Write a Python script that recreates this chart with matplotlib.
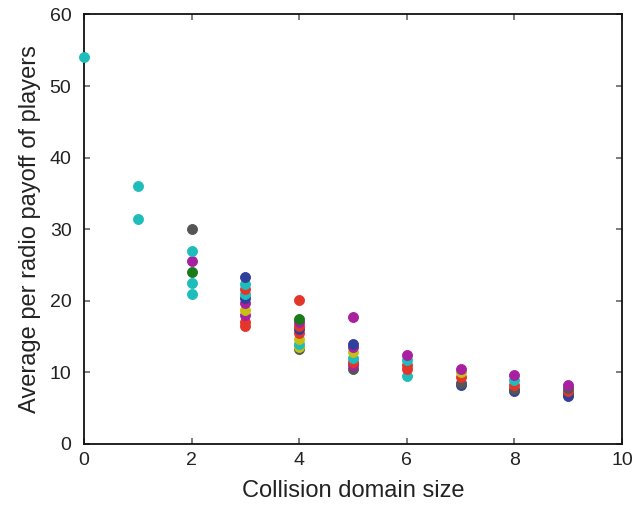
import matplotlib
matplotlib.use("Agg")
import matplotlib.pyplot as plt

plt.rcParams['font.family'] = ['Liberation Sans', 'DejaVu Sans']

# palette used for the individual runs
CY = "#1fbcbc"
GR = "#555555"
PU = "#a81fa0"
GN = "#1a7a1a"
BL = "#2f3f9a"
RD = "#e3352a"
YE = "#c4c014"

# collision domain sizes and the per-radio payoffs observed at each size
sizes = [0, 1, 2, 3, 4, 5, 6, 7, 8, 9]

payoff_0 = [54.0]
payoff_1 = [36.0, 31.5]
payoff_2 = [30.0, 27.0, 25.5, 24.0, 22.5, 21.0]
payoff_3 = [23.3, 22.4, 21.7, 21.0, 20.4, 19.7, 18.7, 18.0, 17.1, 16.5]
payoff_4 = [20.1, 17.4, 17.0, 16.5, 16.0, 15.5, 14.7, 14.0, 13.5, 13.3]
payoff_5 = [17.8, 14.0, 13.5, 12.8, 12.0, 11.5, 11.0, 10.5]
payoff_6 = [12.5, 11.7, 11.0, 10.5, 9.5]
payoff_7 = [10.5, 10.0, 9.3, 8.5, 8.3]
payoff_8 = [9.7, 8.9, 8.2, 7.7, 7.4]
payoff_9 = [8.2, 7.8, 7.4, 7.0, 6.7]

colors_0 = [CY]
colors_1 = [CY, CY]
colors_2 = [GR, CY, PU, GN, CY, CY]
colors_3 = [BL, CY, RD, CY, BL, PU, YE, PU, RD, RD]
colors_4 = [RD, GN, PU, RD, BL, RD, YE, CY, YE, GR]
colors_5 = [PU, BL, PU, YE, CY, RD, PU, GR]
colors_6 = [PU, CY, RD, RD, CY]
colors_7 = [PU, YE, RD, GR, BL]
colors_8 = [PU, CY, RD, GR, BL]
colors_9 = [PU, GR, RD, BL, BL]

payoffs = [payoff_0, payoff_1, payoff_2, payoff_3, payoff_4,
           payoff_5, payoff_6, payoff_7, payoff_8, payoff_9]
colors = [colors_0, colors_1, colors_2, colors_3, colors_4,
          colors_5, colors_6, colors_7, colors_8, colors_9]

fig = plt.figure(figsize=(6.43, 5.05), dpi=100)
ax = fig.add_axes([0.1306, 0.1208, 0.8367, 0.8505])

for x, ys, cs in zip(sizes, payoffs, colors):
    # draw bottom-up so the top of each column sits in front
    for y, c in reversed(list(zip(ys, cs))):
        ax.scatter([x], [y], s=52, color=c, edgecolors=c, linewidths=0.6,
                   zorder=3, clip_on=False)

ax.set_xlim(0, 10)
ax.set_ylim(0, 60)
ax.set_xticks(range(0, 11, 2))
ax.set_yticks(range(0, 61, 10))

ax.tick_params(direction='in', length=4, width=1.2, top=True, right=True,
               labelsize=14, color='#666666', labelcolor='#222222')
ax.tick_params(axis='x', pad=6)
ax.tick_params(axis='y', pad=9)
for sp in ax.spines.values():
    sp.set_linewidth(1.3)
    sp.set_color('#111111')

ax.set_xlabel("Collision domain size", fontsize=17, labelpad=8, color='#222222')
ax.set_ylabel("Average per radio payoff of players", fontsize=17, labelpad=6,
              color='#222222')

fig.savefig("out.png", dpi=100)
